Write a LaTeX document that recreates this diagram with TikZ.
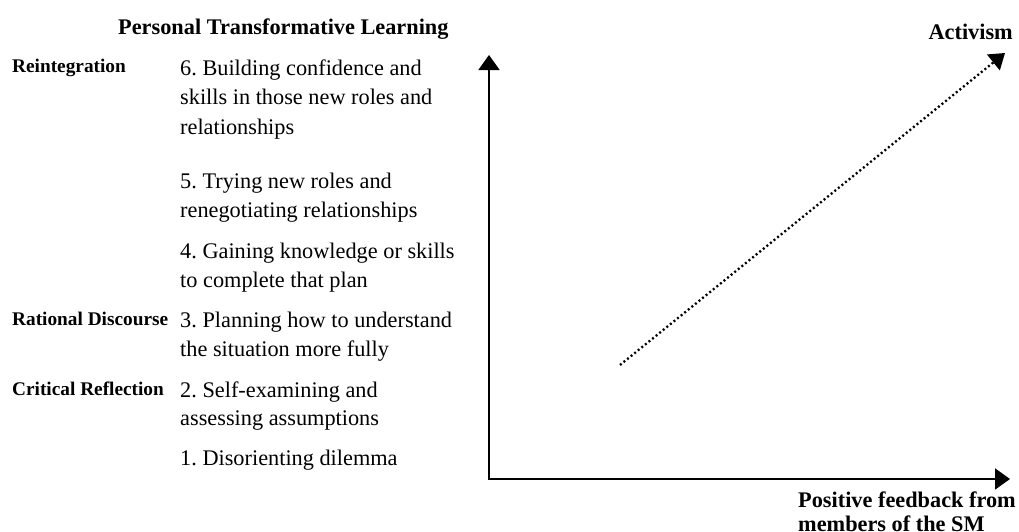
\documentclass[tikz,border=0pt]{standalone}
\usepackage{fontspec}
\setmainfont{Liberation Serif}
\usetikzlibrary{arrows.meta}
\frenchspacing
\begin{document}
\begin{tikzpicture}[x=1pt,y=-1pt,
  body/.style={anchor=base west, inner sep=0pt, font=\fontsize{22.3}{26}\selectfont\frenchspacing},
  lab/.style={anchor=base west, inner sep=0pt, font=\fontsize{19.3}{23}\selectfont\bfseries},
  ttl/.style={inner sep=0pt, font=\fontsize{22.3}{26}\selectfont\bfseries},
  axis/.style={line width=1.9pt, {Triangle[length=15pt,width=21pt]}-{Triangle[length=15pt,width=21pt]}},
  trend/.style={line width=2.3pt, dash pattern=on 2pt off 2.6pt, -{Triangle[length=15pt,width=20pt]}}]
\fill[white] (0,0) rectangle (1019,531);
\path[use as bounding box] (0,0) rectangle (1019,531);

% title
\node[ttl, anchor=base west] (title) at (118,34) {Personal Transformative Learning};

% phase labels
\node[lab] (reint) at (12,72) {Reintegration};
\node[lab] (ratio) at (12,325) {Rational Discourse};
\node[lab] (crit) at (12,395) {Critical Reflection};

% steps
\node[body] (s6a) at (180,75) {6. Building confidence and};
\node[body] (s6b) at (180,104.5) {skills in those new roles and};
\node[body] (s6c) at (180,134) {relationships};
\node[body] (s5a) at (180,188) {5. Trying new roles and};
\node[body] (s5b) at (180,217) {renegotiating relationships};
\node[body] (s4a) at (180,258) {4. Gaining knowledge or skills};
\node[body] (s4b) at (180,287) {to complete that plan};
\node[body] (s3a) at (180,327) {3. Planning how to understand};
\node[body] (s3b) at (180,356) {the situation more fully};
\node[body] (s2a) at (180,397) {2. Self-examining and};
\node[body] (s2b) at (180,425.5) {assessing assumptions};
\node[body] (s1) at (180,465) {1. Disorienting dilemma};

% axes
\coordinate (O) at (489,479);
\coordinate (ytip) at (489,55);
\coordinate (xtip) at (1010,479);
\draw[axis] (ytip) -- (O) -- (xtip);

% trend
\coordinate (dstart) at (620,365);
\coordinate (dtip) at (1005,53);
\draw[trend] (dstart) -- (dtip);

% axis labels
\node[ttl, anchor=base east] (act) at (1013,39) {Activism};
\node[ttl, anchor=base west] (pf1) at (798,507) {Positive feedback from};
\node[ttl, anchor=base west] (pf2) at (798,531) {members of the SM};
\end{tikzpicture}
\end{document}
